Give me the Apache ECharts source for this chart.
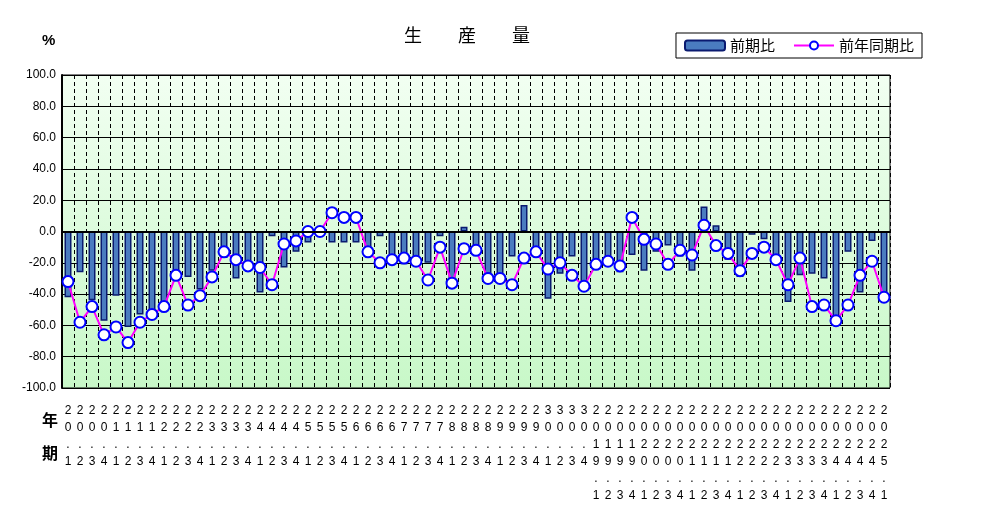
<!DOCTYPE html>
<html><head><meta charset="utf-8">
<script src="https://cdn.jsdelivr.net/npm/echarts@6/dist/echarts.min.js"></script>
<style>html,body{margin:0;background:#fff}#c{width:1005px;height:532px}</style>
</head><body><div id="c"></div>
<script>
const categories = [
 "20.1","20.2","20.3","20.4","21.1","21.2","21.3","21.4","22.1","22.2","22.3","22.4",
 "23.1","23.2","23.3","23.4","24.1","24.2","24.3","24.4","25.1","25.2","25.3","25.4",
 "26.1","26.2","26.3","26.4","27.1","27.2","27.3","27.4","28.1","28.2","28.3","28.4",
 "29.1","29.2","29.3","29.4","30.1","30.2","30.3","30.4",
 "2019.1","2019.2","2019.3","2019.4","2020.1","2020.2","2020.3","2020.4",
 "2021.1","2021.2","2021.3","2021.4","2022.1","2022.2","2022.3","2022.4",
 "2023.1","2023.2","2023.3","2023.4","2024.1","2024.2","2024.3","2024.4","2025.1"];
const qoq = [-42,-26,-44,-57,-41,-61,-53,-51,-47,-27,-29,-37,
 -25,-17,-30,-21,-39,-3,-23,-13,-7,-3,-7,-7,
 -7,-12,-3,-19,-21,-19,-20,-3,-33,3,-9,-27,
 -33,-16,17,-11,-43,-27,-16,-35,-19,-19,-26,-15,
 -25,-13,-9,-16,-25,16,4,-18,-29,-2,-5,-16,
 -45,-28,-27,-30,-58,-13,-39,-6,-42];
const yoy = [-32,-58,-48,-66,-61,-71,-58,-53,-48,-28,-47,-41,
 -29,-13,-18,-22,-23,-34,-8,-6,0,0,12,9,
 9,-13,-20,-18,-17,-19,-31,-10,-33,-11,-12,-30,
 -30,-34,-17,-13,-24,-20,-28,-35,-21,-19,-22,9,
 -5,-8,-21,-12,-15,4,-9,-14,-25,-14,-10,-18,
 -34,-17,-48,-47,-57,-47,-28,-19,-42];
const yTicks = {min:-100,max:100,interval:20};

const chart = echarts.init(document.getElementById('c'));
chart.setOption({
  animation:false,
  title:{text:'生　　産　　量',left:462,top:21,textAlign:'center',
    textStyle:{fontSize:18,fontWeight:'normal',color:'#000',fontFamily:'Noto Sans CJK JP'}},
  legend:{right:83,top:33,itemGap:18,padding:[5,8],borderColor:'#000',borderWidth:1,
    backgroundColor:'#fff',itemWidth:40,itemHeight:10,
    textStyle:{fontSize:15,color:'#000',fontFamily:'Noto Sans CJK JP'},
    data:['前期比','前年同期比']},
  graphic:[
    {type:'text',left:42,top:33,style:{text:'%',fontSize:15,fontWeight:'bold',fill:'#000'}},
    {type:'text',left:42,top:412,style:{text:'年',fontSize:16,fontWeight:'bold',fill:'#000',fontFamily:'Noto Sans CJK JP'}},
    {type:'text',left:42,top:445,style:{text:'期',fontSize:16,fontWeight:'bold',fill:'#000',fontFamily:'Noto Sans CJK JP'}}
  ],
  grid:{left:62,right:115,top:75,bottom:144,show:true,borderColor:'#000',borderWidth:1,
    backgroundColor:{type:'linear',x:0,y:0,x2:0,y2:1,colorStops:[{offset:0,color:'#f2fff2'},{offset:1,color:'#c8f8c8'}]}},
  xAxis:{type:'category',data:categories,boundaryGap:true,
    axisLine:{lineStyle:{color:'#000'}},axisTick:{show:false},
    splitLine:{show:true,interval:0,lineStyle:{color:'#000',type:[4,3],width:1}},
    axisLabel:{interval:0,margin:14,fontSize:12,lineHeight:17,color:'#000',verticalAlign:'top',
      formatter:v=>v.split('').join('\n')}},
  yAxis:{type:'value',min:yTicks.min,max:yTicks.max,interval:yTicks.interval,
    axisLine:{show:true,onZero:false,lineStyle:{color:'#000',width:2}},axisTick:{show:false},
    splitLine:{lineStyle:{color:'#000',width:1}},
    axisLabel:{fontSize:12,color:'#000',margin:6,formatter:v=>v.toFixed(1)}},
  series:[
    {name:'前期比',type:'bar',data:qoq,barWidth:7,
      itemStyle:{color:'#4a7cc0',borderColor:'#0a1a70',borderWidth:1.5},
      markLine:{silent:true,symbol:'none',label:{show:false},lineStyle:{color:'#000',width:2,type:'solid'},data:[{yAxis:0}]}},
    {name:'前年同期比',type:'line',data:yoy,symbol:'circle',symbolSize:11,
      lineStyle:{color:'#ff00ff',width:2},
      itemStyle:{color:'#fff',borderColor:'#0000ff',borderWidth:2}}
  ]
});
</script></body></html>
